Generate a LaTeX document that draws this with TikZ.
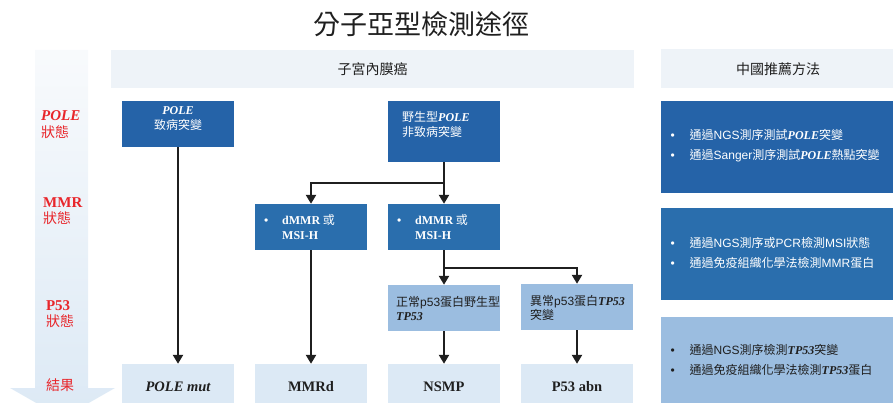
\documentclass[tikz,border=0pt]{standalone}
\usepackage{fontspec}
\newfontfamily\zhfont{Noto Sans CJK TC}
\newfontfamily\arfont{Liberation Sans}
\newfontfamily\tmfont{Liberation Serif}
\newcommand{\gi}[1]{{\tmfont\bfseries\itshape #1}}
\newcommand{\gb}[1]{{\tmfont\bfseries #1}}
\newcommand{\la}[1]{{\arfont #1}}
\newcommand{\bul}{\makebox[18pt][l]{\la{•}}}
\newcommand{\rbul}{\makebox[19pt][l]{\la{•}}}
\usetikzlibrary{arrows.meta}
\definecolor{dblue}{HTML}{2563A8}
\definecolor{mblue}{HTML}{2A6EAD}
\definecolor{lblue}{HTML}{9BBDE0}
\definecolor{pblue}{HTML}{DCE9F5}
\definecolor{hgrey}{HTML}{EEF3F8}
\definecolor{lred}{HTML}{E8262B}
\definecolor{ink}{HTML}{1F1F1F}
\begin{document}
\begin{tikzpicture}[x=1pt,y=-1pt,
  box/.style={draw=none,inner sep=0pt,minimum width=112pt},
  darkbox/.style={box,fill=dblue},
  midbox/.style={box,fill=mblue},
  litebox/.style={box,fill=lblue},
  resbox/.style={box,fill=pblue,minimum height=42pt},
  wtxt/.style={text=white,inner sep=0pt,align=left,font=\zhfont\fontsize{12}{15}\selectfont},
  ktxt/.style={text=ink,inner sep=0pt,align=left,font=\zhfont\fontsize{12}{14}\selectfont},
  restxt/.style={text=ink,inner sep=0pt,font=\tmfont\bfseries\fontsize{14.5}{16}\selectfont},
  lab/.style={text=lred,inner sep=0pt,align=left,font=\zhfont\fontsize{14}{16.5}\selectfont},
  rtxt/.style={inner sep=0pt,align=left,font=\zhfont\fontsize{12}{20}\selectfont},
  conn/.style={draw=ink,line width=2.4pt},
  arr/.style={conn,-{Triangle[width=10pt,length=9pt]}}
]
\useasboundingbox (0,0) rectangle (893,403);
% side arrow strip
\begin{scope}
\clip (0,0) rectangle (893,403);
\shade[top color=white!60!hgrey, bottom color=pblue]
  (35,50) -- (88,50) -- (88,388) -- (115,388) -- (62.5,418) -- (10,388) -- (35,388) -- cycle;
\end{scope}
% title
\node[inner sep=0pt,text=ink,font=\zhfont\fontsize{27}{30}\selectfont] (title) at (421,24) {分子亞型檢測途徑};
% headers
\node[box,fill=hgrey,minimum width=523pt,minimum height=38pt] (hleft) at (372.5,69) {};
\node[inner sep=0pt,text=ink,font=\zhfont\fontsize{14}{16}\selectfont] (hlefttxt) at (hleft.center) {子宮內膜癌};
\node[box,fill=hgrey,minimum width=236pt,minimum height=39pt] (hright) at (779,68.5) {};
\node[inner sep=0pt,text=ink,font=\zhfont\fontsize{14}{16}\selectfont] (hrighttxt) at (778,69.5) {中國推薦方法};
% left labels
\node[lab,anchor=west] (l1) at (41,124.5) {{\fontsize{15}{16.5}\selectfont\gi{POLE}}\\狀態};
\node[lab,anchor=west] (l2) at (43,211) {{\fontsize{15}{16.5}\selectfont\gb{MMR}}\\狀態};
\node[lab,anchor=center] (l3) at (60,314) {{\fontsize{15}{16.5}\selectfont\gb{P53}}\\狀態};
\node[lab,anchor=center] (l4) at (60,385.5) {結果};
% flow boxes
\node[darkbox,minimum height=46pt] (pole) at (178,124) {};
\node[wtxt,align=center] (poletxt) at (178,118.5) {\gi{POLE}\\致病突變};
\node[darkbox,minimum height=61pt] (wt) at (444,131.5) {};
\node[wtxt,anchor=west] (wttxt) at (402,124.5) {野生型\gi{POLE}\\非致病突變};
\node[midbox,minimum height=46pt] (d1) at (311,227) {};
\node[wtxt,anchor=west] (d1txt) at (264,227.5) {\bul\gb{dMMR} 或\\\hspace*{18pt}\gb{MSI-H}};
\node[midbox,minimum height=46pt] (d2) at (444,227) {};
\node[wtxt,anchor=west] (d2txt) at (397,227.5) {\bul\gb{dMMR} 或\\\hspace*{18pt}\gb{MSI-H}};
\node[litebox,minimum height=46pt] (n53) at (444,308) {};
\node[ktxt,anchor=west] (n53txt) at (396,308.5) {正常\la{p53}蛋白野生型\\\gi{TP53}};
\node[litebox,minimum height=46pt] (a53) at (577,307) {};
\node[ktxt,anchor=west] (a53txt) at (530,307.5) {異常\la{p53}蛋白\gi{TP53}\\突變};
% results
\node[resbox] (rpole) at (178,385) {};
\node[restxt] (rpoletxt) at (178,387) {\itshape POLE mut};
\node[resbox] (rmmr) at (311,385) {};
\node[restxt] (rmmrtxt) at (311,387) {MMRd};
\node[resbox] (rnsmp) at (444,385) {};
\node[restxt] (rnsmptxt) at (444,387) {NSMP};
\node[resbox] (rabn) at (577,385) {};
\node[restxt] (rabntxt) at (577,387) {P53 abn};
% right method boxes
\node[box,fill=dblue,minimum width=236pt,minimum height=92pt] (m1) at (779,147) {};
\node[rtxt,text=white,anchor=west] (m1txt) at (670.5,145.5) {\rbul 通過\la{NGS}測序測試\gi{POLE}突變\\\rbul 通過\la{Sanger}測序測試\gi{POLE}熱點突變};
\node[box,fill=mblue,minimum width=236pt,minimum height=92pt] (m2) at (779,254) {};
\node[rtxt,text=white,anchor=west] (m2txt) at (670.5,252.5) {\rbul 通過\la{NGS}測序或\la{PCR}檢測\la{MSI}狀態\\\rbul 通過免疫組織化學法檢測\la{MMR}蛋白};
\node[box,fill=lblue,minimum width=236pt,minimum height=89pt] (m3) at (779,361.5) {};
\node[rtxt,text=ink,anchor=west] (m3txt) at (670.5,360) {\rbul 通過\la{NGS}測序檢測\gi{TP53}突變\\\rbul 通過免疫組織化學法檢測\gi{TP53}蛋白};
% connectors
\coordinate (j1) at (444,183);
\coordinate (j2) at (444,268);
\draw[arr] (pole.south) -- (rpole.north);
\draw[conn] (wt.south) -- (j1);
\draw[arr] (j1) -| (d1.north);
\draw[arr] (j1) -- (d2.north);
\draw[conn] (d2.south) -- (j2);
\draw[arr] (j2) -| (a53.north);
\draw[arr] (j2) -- (n53.north);
\draw[arr] (d1.south) -- (rmmr.north);
\draw[arr] (n53.south) -- (rnsmp.north);
\draw[arr] (a53.south) -- (rabn.north);
\end{tikzpicture}
\end{document}
